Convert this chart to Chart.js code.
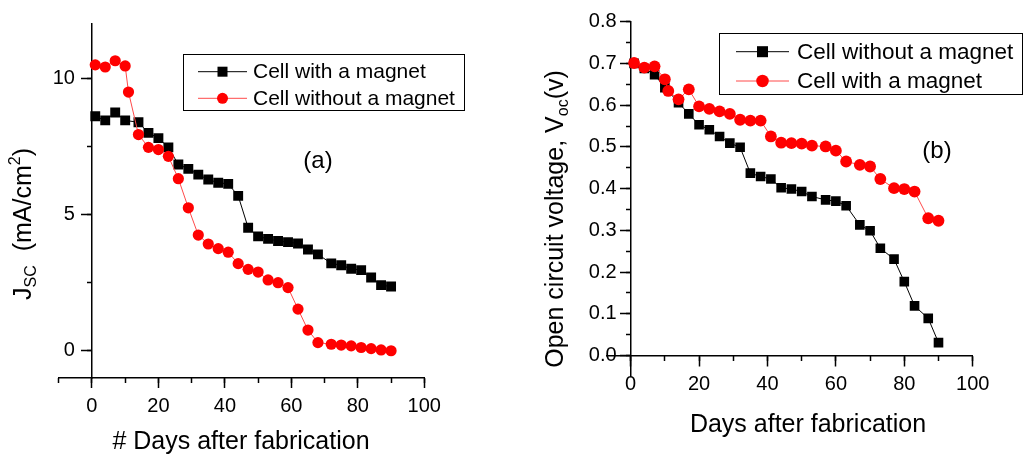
<!DOCTYPE html>
<html>
<head>
<meta charset="utf-8">
<script src="https://cdn.jsdelivr.net/npm/chart.js@4.4.0/dist/chart.umd.min.js"></script>
<style>
  html, body { margin: 0; padding: 0; background: #fff; }
  #wrap { position: relative; width: 1025px; height: 456px; overflow: hidden; }
  .panel { position: absolute; top: 0; }
</style>
</head>
<body>
<div id="wrap">
  <div class="panel" style="left:0"><canvas id="chartA" width="520" height="456"></canvas></div>
  <div class="panel" style="left:520px"><canvas id="chartB" width="505" height="456"></canvas></div>
</div>
<script>
// ---- data ----
// (a) short-circuit current density, mA/cm2
const daysAMagnet = [1, 4, 7, 10, 14, 17, 20, 23, 26, 29, 32, 35, 38, 41, 44, 47, 50, 53, 56, 59, 62, 65, 68, 72, 75, 78, 81, 84, 87, 90];
const jscMagnet = [8.61, 8.46, 8.75, 8.46, 8.39, 8.0, 7.81, 7.47, 6.84, 6.68, 6.47, 6.29, 6.17, 6.13, 5.69, 4.52, 4.2, 4.11, 4.03, 3.99, 3.94, 3.72, 3.54, 3.21, 3.14, 3.01, 2.96, 2.69, 2.41, 2.36];
const daysANoMagnet = [1, 4, 7, 10, 11, 14, 17, 20, 23, 26, 29, 32, 35, 38, 41, 44, 47, 50, 53, 56, 59, 62, 65, 68, 72, 75, 78, 81, 84, 87, 90];
const jscNoMagnet = [10.5, 10.42, 10.65, 10.46, 9.5, 7.94, 7.47, 7.39, 7.14, 6.32, 5.25, 4.25, 3.92, 3.75, 3.62, 3.2, 2.99, 2.89, 2.6, 2.5, 2.32, 1.53, 0.76, 0.3, 0.24, 0.21, 0.18, 0.12, 0.08, 0.03, 0.0];

// (b) open circuit voltage, V
const daysBNoMagnet = [1, 4, 7, 10, 14, 17, 20, 23, 26, 29, 32, 35, 38, 41, 44, 47, 50, 53, 57, 60, 63, 67, 70, 73, 77, 80, 83, 87, 90];
const vocNoMagnet = [0.700, 0.688, 0.673, 0.642, 0.606, 0.579, 0.553, 0.541, 0.525, 0.509, 0.499, 0.437, 0.429, 0.423, 0.402, 0.399, 0.393, 0.381, 0.373, 0.370, 0.359, 0.313, 0.299, 0.257, 0.231, 0.177, 0.119, 0.089, 0.031];
const daysBMagnet = [1, 4, 7, 10, 11, 14, 17, 20, 23, 26, 29, 32, 35, 38, 41, 44, 47, 50, 53, 57, 60, 63, 67, 70, 73, 77, 80, 83, 87, 90];
const vocMagnet = [0.701, 0.690, 0.693, 0.662, 0.634, 0.614, 0.638, 0.597, 0.591, 0.585, 0.579, 0.565, 0.563, 0.563, 0.525, 0.510, 0.509, 0.508, 0.503, 0.501, 0.491, 0.465, 0.457, 0.453, 0.423, 0.401, 0.399, 0.393, 0.329, 0.323];

const labelMagnet = 'Cell with a magnet';
const labelNoMagnet = 'Cell without a magnet';

const FONT = '"Liberation Sans", Arial, Helvetica, sans-serif';
const RED_LINE = '#ff4a4a';

function toPoints(xs, ys) {
  return xs.map((x, i) => ({ x: x, y: ys[i] }));
}

// rich text with sub/superscripts, centred on (cx, cy)
function drawRich(ctx, parts, cx, cy, rotate) {
  ctx.save();
  ctx.translate(cx, cy);
  if (rotate) ctx.rotate(-Math.PI / 2);
  let total = 0;
  parts.forEach(p => {
    ctx.font = p.size + 'px ' + FONT;
    p.w = ctx.measureText(p.text).width;
    total += p.w;
  });
  let x = -total / 2;
  ctx.fillStyle = '#000';
  ctx.textAlign = 'left';
  ctx.textBaseline = 'alphabetic';
  parts.forEach(p => {
    ctx.font = p.size + 'px ' + FONT;
    ctx.fillText(p.text, x, 9 + (p.dy || 0));
    x += p.w;
  });
  ctx.restore();
}

function drawMarker(ctx, style, x, y, size, color) {
  ctx.fillStyle = color;
  if (style === 'rect') {
    ctx.fillRect(x - size / 2, y - size / 2, size, size);
  } else {
    ctx.beginPath();
    ctx.arc(x, y, size / 2, 0, Math.PI * 2);
    ctx.fill();
  }
}

function drawLegend(ctx, chart, lg) {
  ctx.save();
  ctx.fillStyle = '#fff';
  ctx.fillRect(lg.x, lg.y, lg.w, lg.h);
  ctx.strokeStyle = '#000';
  ctx.lineWidth = 1;
  ctx.strokeRect(lg.x + 0.5, lg.y + 0.5, lg.w, lg.h);
  lg.rows.forEach((row, i) => {
    const ds = chart.data.datasets[row.index];
    const y = lg.rowY[i];
    ctx.strokeStyle = ds.borderColor;
    ctx.beginPath();
    ctx.moveTo(lg.lineX0, y);
    ctx.lineTo(lg.lineX1, y);
    ctx.stroke();
    drawMarker(ctx, ds.pointStyle, (lg.lineX0 + lg.lineX1) / 2, y, row.size, ds.pointBackgroundColor);
    ctx.fillStyle = '#000';
    ctx.font = lg.fontSize + 'px ' + FONT;
    ctx.textAlign = 'left';
    ctx.textBaseline = 'middle';
    ctx.fillText(ds.label, lg.textX, y + 1);
  });
  ctx.restore();
}

function decorPlugin(cfg) {
  return {
    id: 'decor',
    afterDraw(chart) {
      const ctx = chart.ctx;
      drawLegend(ctx, chart, cfg.legend);
      drawRich(ctx, cfg.xTitle, cfg.xTitlePos[0], cfg.xTitlePos[1], false);
      drawRich(ctx, cfg.yTitle, cfg.yTitlePos[0], cfg.yTitlePos[1], true);
      ctx.save();
      ctx.fillStyle = '#000';
      ctx.font = '24px ' + FONT;
      ctx.textAlign = 'center';
      ctx.textBaseline = 'middle';
      ctx.fillText(cfg.tag, cfg.tagPos[0], cfg.tagPos[1]);
      ctx.restore();
    }
  };
}

// one linear axis; kind = 'major' (ticks+line), 'minor' (short ticks), 'labels' (text only)
function axis(opts) {
  const kind = opts.kind;
  return {
    type: 'linear',
    position: opts.position,
    min: opts.min,
    max: opts.max,
    afterFit: opts.afterFit,
    afterBuildTicks: opts.afterBuildTicks,
    ticks: {
      display: kind === 'labels' || !!opts.withLabels,
      stepSize: opts.step,
      includeBounds: false,
      autoSkip: false,
      maxRotation: 0,
      // the text-only y axes sit at zero width, mirrored so they are not clipped
      mirror: kind === 'labels',
      crossAlign: kind === 'labels' ? 'far' : 'near',
      color: '#000',
      padding: opts.padding || 4,
      font: { family: FONT, size: 20 },
      callback: opts.format
    },
    grid: {
      drawOnChartArea: false,
      drawTicks: kind !== 'labels',
      tickLength: kind === 'major' ? 10 : 5,
      tickColor: '#000',
      tickWidth: 1.5
    },
    border: { display: kind === 'major', color: '#000', width: 1.5 }
  };
}

function dataset(label, pts, black, radius, order) {
  return {
    label: label,
    data: pts,
    borderColor: black ? '#000' : RED_LINE,
    borderWidth: 1,
    pointStyle: black ? 'rect' : 'circle',
    pointRadius: radius,
    pointBackgroundColor: black ? '#000' : '#ff0000',
    pointBorderWidth: 0,
    tension: 0,
    order: order
  };
}

const common = {
  responsive: false,
  animation: false,
  events: [],
  plugins: { legend: { display: false }, tooltip: { enabled: false } }
};

const zeroWidth = s => { s.width = 0; };

// ---- panel (a) ----
new Chart(document.getElementById('chartA'), {
  type: 'line',
  data: {
    datasets: [
      dataset(labelMagnet, toPoints(daysAMagnet, jscMagnet), true, 7, 1),
      dataset(labelNoMagnet, toPoints(daysANoMagnet, jscNoMagnet), false, 5.6, 0)
    ]
  },
  options: Object.assign({}, common, {
    layout: { padding: { left: 58.7, right: 95.7, top: 24, bottom: 0 } },
    scales: {
      x: axis({ kind: 'major', withLabels: true, position: 'bottom', min: -10, max: 100, step: 20, padding: 6,
        afterFit: s => { s.height = 78; } }),
      xMinor: axis({ kind: 'minor', position: { y: -1 }, min: -10, max: 100, step: 10 }),
      y: axis({ kind: 'major', position: { x: 0 }, min: -1, max: 12, step: 5 }),
      yMinor: axis({ kind: 'minor', position: { x: 0 }, min: -1, max: 12, step: 2.5 }),
      yText: axis({ kind: 'labels', position: 'left', min: -1, max: 12, step: 5, padding: -6,
        afterFit: zeroWidth })
    }
  }),
  plugins: [decorPlugin({
    legend: {
      x: 183, y: 54, w: 281, h: 56,
      rowY: [71.7, 98.3], lineX0: 198, lineX1: 247, textX: 253, fontSize: 21,
      rows: [{ index: 0, size: 10 }, { index: 1, size: 11 }]
    },
    xTitle: [{ text: '# Days after fabrication', size: 25 }],
    xTitlePos: [241, 440],
    yTitle: [
      { text: 'J', size: 25 },
      { text: 'SC', size: 16, dy: 5 },
      { text: '  (mA/cm', size: 25 },
      { text: '2', size: 16, dy: -11 },
      { text: ')', size: 25 }
    ],
    yTitlePos: [22, 224],
    tag: '(a)',
    tagPos: [318, 161]
  })]
});

// ---- panel (b) ----
const dropBelowZero = s => { s.ticks = s.ticks.filter(t => t.value >= -1e-9); };
const oneDecimal = v => v.toFixed(1);

new Chart(document.getElementById('chartB'), {
  type: 'line',
  data: {
    datasets: [
      dataset(labelNoMagnet, toPoints(daysBNoMagnet, vocNoMagnet), true, 6.8, 1),
      dataset(labelMagnet, toPoints(daysBMagnet, vocMagnet), false, 5.9, 0)
    ]
  },
  options: Object.assign({}, common, {
    layout: { padding: { left: 86.7, right: 52.3, top: 21.7, bottom: 79.6 } },
    scales: {
      x: axis({ kind: 'major', withLabels: true, position: { y: 0 }, min: -7, max: 100, step: 20, padding: 7 }),
      xMinor: axis({ kind: 'minor', position: { y: 0 }, min: -7, max: 100, step: 10 }),
      y: axis({ kind: 'major', position: { x: 0 }, min: -0.05, max: 0.8, step: 0.1 }),
      yMinor: axis({ kind: 'minor', position: { x: 0 }, min: -0.05, max: 0.8, step: 0.05,
        afterBuildTicks: dropBelowZero }),
      yText: axis({ kind: 'labels', position: 'left', min: -0.05, max: 0.8, step: 0.1, padding: -17.9,
        format: oneDecimal, afterFit: zeroWidth })
    }
  }),
  plugins: [decorPlugin({
    legend: {
      x: 199, y: 33, w: 303, h: 61,
      rowY: [51.7, 81], lineX0: 216, lineX1: 269, textX: 277, fontSize: 22.5,
      rows: [{ index: 0, size: 11 }, { index: 1, size: 12.5 }]
    },
    xTitle: [{ text: 'Days after fabrication', size: 25 }],
    xTitlePos: [288, 423],
    yTitle: [
      { text: 'Open circuit voltage, V', size: 25 },
      { text: 'oc', size: 16, dy: 5 },
      { text: '(v)', size: 25 }
    ],
    yTitlePos: [34, 219],
    tag: '(b)',
    tagPos: [417, 151]
  })]
});
</script>
</body>
</html>
